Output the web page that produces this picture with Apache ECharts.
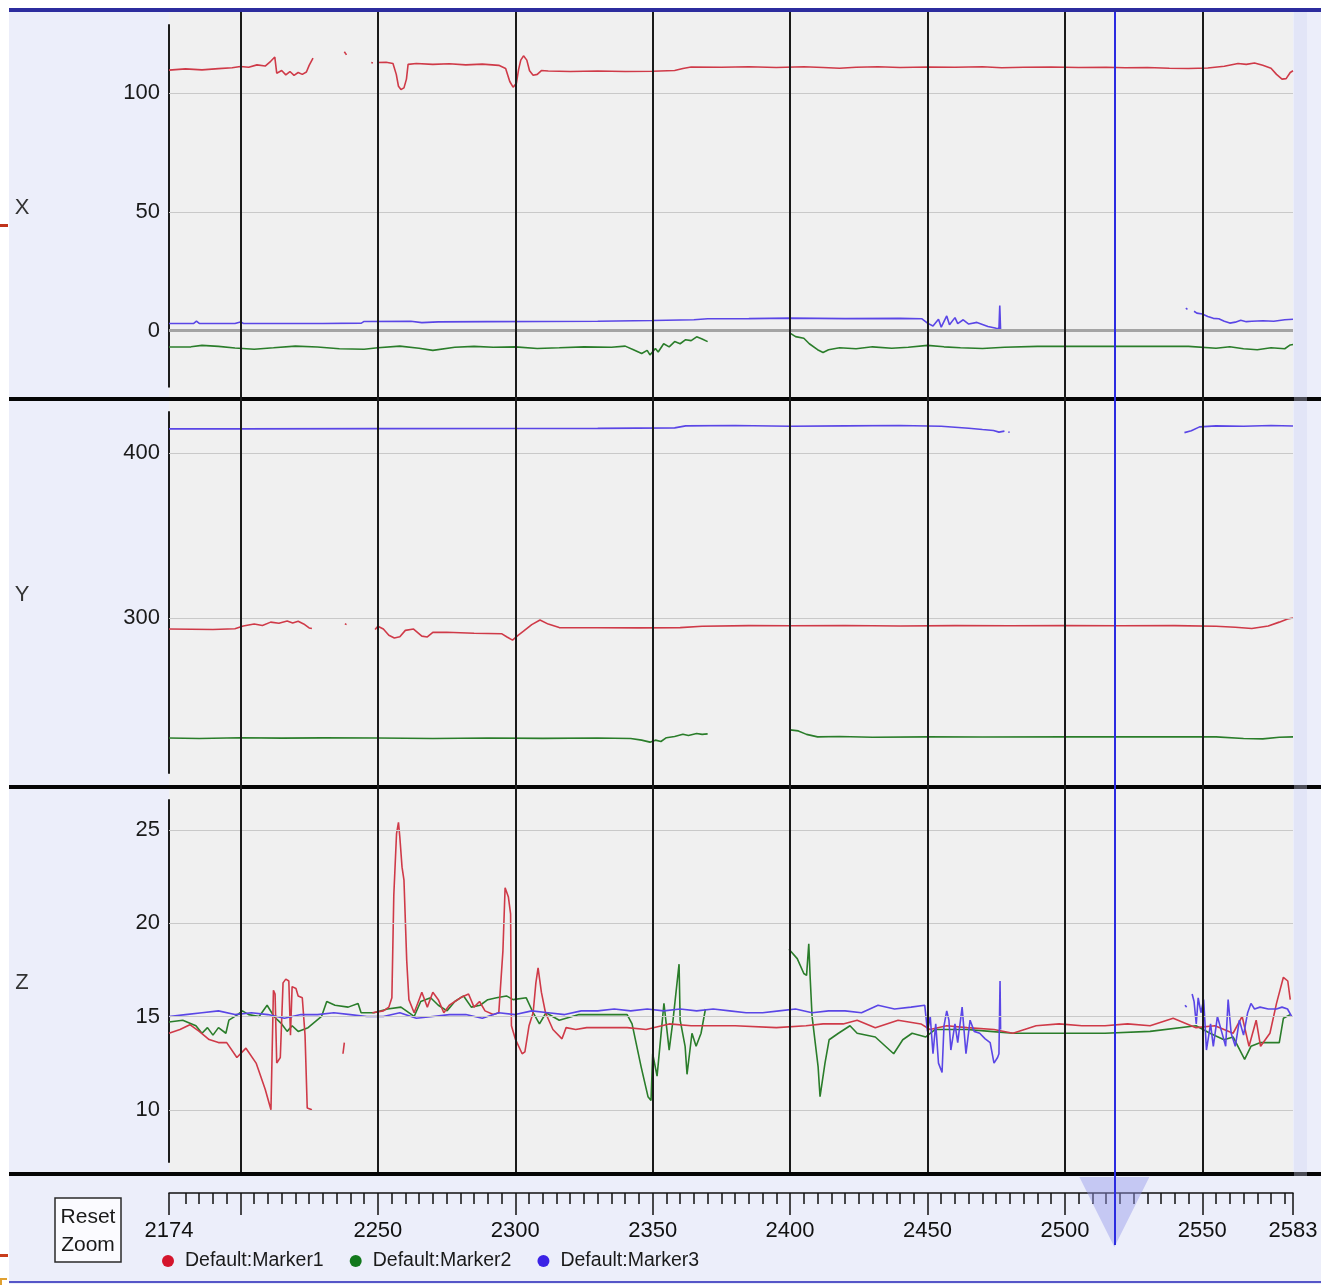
<!DOCTYPE html>
<html><head><meta charset="utf-8">
<script src="https://cdn.jsdelivr.net/npm/echarts@6.0.0/dist/echarts.min.js"></script>
<style>html,body{margin:0;padding:0;background:#fff}#c{width:1321px;height:1285px}</style>
</head><body><div id="c"></div>
<script>
// ---------------- data ----------------
const FRAME_MIN = 2174, FRAME_MAX = 2583;
const frameLabels = [2174, 2250, 2300, 2350, 2400, 2450, 2500, 2550, 2583];
const frameMajorTicks = [2174, 2200, 2250, 2300, 2350, 2400, 2450, 2500, 2550, 2583];
const frameGridLines = [2200, 2250, 2300, 2350, 2400, 2450, 2500, 2550];
const cursorFrame = 2518;
const seriesNames = ['Default:Marker1', 'Default:Marker2', 'Default:Marker3'];
const panelNames = ['X', 'Y', 'Z'];
const xTicks = [0, 50, 100];
const yTicks = [300, 400];
const zTicks = [10, 15, 20, 25];
const xRange = [-23.6, 128.8];
const yRange = [206.1, 424.8];
const zRange = [7.2, 26.6];

// Panel X
const xRed = [[2174,109.8],[2180,110.3],[2186,109.9],[2192,110.4],[2197,110.8],[2200,111.3],[2203,111.0],[2206,112.0],[2209,111.5],[2211,113.5],[2212.5,115.3],[2213.2,108.5],[2215,109.6],[2216.5,107.8],[2218,109.2],[2219.5,107.6],[2221,108.8],[2222.5,108.0],[2224,109.0],[2225,111.8],[2226.4,114.8],
null,[2237.8,117.5],[2238.6,116.2],null,[2247.6,113.0],[2248.2,112.8],null,
[2249.7,113.0],[2253,113.1],[2255.5,112.6],[2256.7,108.0],[2257.5,103.0],[2258.4,101.6],[2259.5,102.3],[2260.4,106.0],[2261,112.2],[2264,112.6],[2270,112.2],[2276,112.5],[2282,112.0],[2288,112.3],[2294,111.8],[2296.5,110.5],[2298,105.0],[2299.2,102.6],[2300.4,104.2],[2301.2,110.0],[2302,114.0],[2303,115.8],[2304.2,114.0],[2305.2,109.5],[2306.5,107.6],[2308,108.0],[2309.5,109.6],[2312,109.4],[2320,109.2],[2330,109.4],[2340,109.2],[2350,109.3],[2358,109.6],[2361,110.5],[2364,111.1],[2375,111.0],[2385,111.2],[2395,110.9],[2405,111.2],[2412,110.9],[2418,110.6],[2424,111.0],[2432,111.2],[2440,110.9],[2450,111.1],[2460,111.0],[2470,111.2],[2477,110.8],[2485,111.0],[2495,111.1],[2505,110.9],[2515,111.0],[2522,110.8],[2530,110.9],[2538,110.6],[2545,110.5],[2552,110.7],[2558,111.4],[2563,112.6],[2566,112.2],[2569,112.8],[2572,111.8],[2575,110.6],[2577,108.0],[2579,106.0],[2580.5,106.2],[2582,108.8],[2583,109.5]];
const xGreen = [[2174,-6.9],[2182,-6.8],[2186,-6.2],[2192,-6.6],[2198,-7.3],[2205,-7.8],[2212,-7.2],[2220,-6.5],[2228,-6.9],[2236,-7.6],[2245,-7.8],[2250,-7.2],[2258,-6.5],[2265,-7.4],[2270,-8.3],[2278,-7.0],[2285,-6.6],[2292,-7.0],[2300,-6.8],[2308,-7.5],[2316,-7.2],[2325,-6.8],[2335,-7.0],[2340,-6.5],[2343,-8.0],[2346,-9.6],[2348,-8.3],[2349,-10.2],[2351,-7.5],[2352,-9.0],[2354,-5.5],[2356,-6.8],[2358,-4.6],[2360,-5.5],[2362,-3.8],[2364,-4.2],[2366,-2.6],[2368,-3.5],[2370,-4.6],
null,[2400,-1.0],[2402,-2.5],[2405,-3.2],[2407,-5.5],[2410,-8.0],[2412,-9.2],[2414,-8.0],[2418,-7.2],[2424,-7.6],[2430,-6.8],[2437,-7.4],[2443,-7.0],[2450,-6.2],[2456,-6.8],[2462,-7.2],[2470,-7.5],[2478,-7.0],[2490,-6.6],[2500,-6.6],[2510,-6.6],[2520,-6.6],[2530,-6.6],[2545,-6.6],[2555,-7.4],[2560,-6.8],[2565,-7.6],[2570,-8.0],[2575,-7.2],[2580,-7.6],[2582,-6.0],[2583,-5.8]];
const xBlue = [[2174,3.0],[2183,3.1],[2184,4.0],[2185,3.1],[2198,3.0],[2200,3.7],[2201,3.1],[2230,3.0],[2244,3.2],[2245,3.9],[2262,4.0],[2266,3.4],[2272,3.7],[2290,3.8],[2310,3.9],[2330,4.0],[2350,4.3],[2365,4.6],[2370,5.0],[2385,5.1],[2400,5.3],[2420,5.1],[2440,5.2],[2448,5.0],[2450,3.2],[2452,2.0],[2454,4.8],[2455,1.5],[2457,6.2],[2458,2.5],[2460,5.5],[2461,3.0],[2463,4.6],[2465,2.8],[2468,3.5],[2472,1.8],[2475,1.0],[2476,0.8],[2476.3,10.6],[2476.6,0.2],
null,[2478.5,0.3],[2479,0.2],null,[2544,9.5],[2544.6,9.0],null,
[2547,8.2],[2548,7.4],[2550,7.0],[2552,6.0],[2554,5.2],[2556,5.0],[2558,4.0],[2560,3.2],[2562,3.6],[2564,4.4],[2566,3.8],[2568,4.0],[2572,4.2],[2576,4.0],[2580,4.6],[2583,4.8]];

// Panel Y
const yRed = [[2174,293.3],[2190,293.0],[2198,293.5],[2201,295.2],[2205,296.4],[2208,295.5],[2211,297.5],[2214,296.8],[2217,298.2],[2219,297.0],[2221,298.0],[2223,296.4],[2225,294.0],[2226,293.6],
null,[2238,296.5],[2238.6,296.0],null,
[2249,293.0],[2250,295.0],[2252,293.3],[2254,289.5],[2256,287.9],[2258,288.6],[2260,292.5],[2263,293.3],[2266,289.0],[2268,288.5],[2270,291.3],[2275,291.4],[2285,290.8],[2295,290.5],[2297,288.5],[2299,286.6],[2301,289.5],[2303,292.0],[2306,296.0],[2309,298.8],[2312,296.3],[2316,294.2],[2330,294.1],[2345,294.0],[2360,294.2],[2368,295.0],[2385,295.4],[2400,295.3],[2420,295.5],[2440,295.2],[2460,295.4],[2480,295.3],[2500,295.4],[2520,295.3],[2540,295.4],[2555,295.0],[2562,294.4],[2568,293.6],[2574,295.2],[2578,297.5],[2581,299.4],[2583,300.0]];
const yGreen = [[2174,227.3],[2185,227.0],[2200,227.5],[2215,227.2],[2230,227.4],[2250,227.3],[2270,227.0],[2290,227.3],[2310,227.1],[2330,227.3],[2342,227.0],[2346,226.0],[2349,224.8],[2351,226.0],[2353,225.2],[2355,227.5],[2358,228.2],[2361,229.6],[2363,228.8],[2366,230.0],[2368,229.5],[2370,229.8],
null,[2400,232.2],[2403,231.6],[2406,229.5],[2410,228.0],[2418,228.2],[2430,227.8],[2450,228.0],[2470,227.9],[2500,228.0],[2530,228.0],[2555,228.0],[2565,227.0],[2572,226.8],[2578,227.8],[2583,228.0]];
const yBlue = [[2174,414.6],[2200,414.6],[2250,414.7],[2300,414.8],[2330,414.9],[2358,415.2],[2362,416.4],[2380,416.6],[2400,416.2],[2420,416.4],[2440,416.6],[2455,416.2],[2465,415.0],[2470,414.2],[2474,413.6],[2476,412.6],[2478,413.2],
null,[2479.4,412.7],[2479.9,412.5],null,
[2543.5,412.3],[2546,413.5],[2549,415.8],[2555,416.4],[2565,416.2],[2575,416.6],[2583,416.3]];

// Panel Z
const zRed = [[2174,14.1],[2178,14.3],[2181.6,14.56],[2185,14.2],[2188.6,13.76],[2192,13.6],[2195,13.6],[2198.7,12.8],[2202,13.3],[2205.7,12.5],[2209,11.1],[2211.1,10.0],[2212,16.4],[2212.6,16.2],[2213.2,12.5],[2214.5,12.8],[2215.5,16.8],[2216.5,17.0],[2217.6,16.9],[2218.2,14.0],[2218.8,16.6],[2220.2,16.5],[2221,16.1],[2222.5,16.0],[2223.5,14.0],[2224.3,10.1],[2226,10.0],
null,[2237.3,13.0],[2237.8,13.6],null,
[2248,15.2],[2252,15.3],[2254,15.5],[2255.1,16.0],[2255.8,21.5],[2256.8,24.8],[2257.5,25.4],[2258,24.6],[2258.8,23.0],[2259.5,22.3],[2260.5,18.0],[2261.3,15.9],[2263.2,15.2],[2265,15.9],[2266,16.3],[2268,15.5],[2270,16.3],[2272,15.9],[2274,15.2],[2276,15.6],[2280,16.0],[2283,16.2],[2285,15.5],[2287,15.8],[2289,15.3],[2292,15.1],[2294,15.2],[2295.5,18.5],[2296.3,21.9],[2297.5,21.4],[2298.3,20.5],[2298.6,14.5],[2300,13.8],[2302.5,13.0],[2303.5,13.1],[2305,14.5],[2306.5,15.2],[2307.5,16.8],[2308.3,17.6],[2309.5,16.3],[2311,15.2],[2313.7,14.3],[2317,13.8],[2318.5,14.4],[2322,14.3],[2326,14.4],[2330.8,14.4],[2340.7,14.4],[2347.6,14.3],[2356,14.6],[2364,14.5],[2380,14.5],[2395,14.4],[2405.8,14.5],[2412,14.6],[2419.3,14.6],[2424.4,14.8],[2431,14.4],[2439.3,14.8],[2447.6,14.6],[2450.9,14.3],[2457,14.5],[2464.4,14.4],[2474.2,14.3],[2481.1,14.1],[2489.5,14.5],[2497.9,14.6],[2506.2,14.5],[2514.6,14.5],[2522.8,14.6],[2531,14.5],[2539.4,14.9],[2547.7,14.4],[2554.6,14.5],[2561.2,14.1],[2564.5,15.0],[2567,13.4],[2569.6,14.8],[2571.2,13.4],[2574.6,14.1],[2577,15.7],[2579.5,17.1],[2581.1,16.9],[2582,15.9]];
const zGreen = [[2174,14.7],[2179,14.8],[2183.8,14.5],[2186,14.1],[2188,14.4],[2190,14.0],[2192,14.4],[2194.7,14.1],[2195.8,14.8],[2199,15.1],[2200.7,15.3],[2203,15.1],[2206.8,15.0],[2209.7,15.6],[2212.2,15.0],[2215,14.6],[2217,14.2],[2218.8,14.5],[2221,14.2],[2224.6,14.4],[2229.5,15.0],[2231.4,15.8],[2234.4,15.6],[2239.2,15.5],[2242.8,15.7],[2243.9,15.2],[2248.6,15.2],[2253.5,15.4],[2258.4,15.5],[2263.2,15.0],[2265.6,15.8],[2269.2,16.0],[2272,15.6],[2275.2,15.3],[2278,15.8],[2281.2,16.1],[2284,15.5],[2287.2,15.6],[2290,15.9],[2293.2,16.0],[2296.8,16.1],[2299.2,15.9],[2304,16.0],[2306.5,15.2],[2308.8,14.6],[2311.2,15.2],[2316,14.8],[2323.2,15.1],[2330.8,15.1],[2340.7,15.1],[2342.5,14.6],[2345.8,12.3],[2348.3,10.7],[2349.4,10.5],[2350,13.0],[2351.6,11.8],[2354.1,15.7],[2356,13.2],[2357.4,14.8],[2359.6,17.8],[2360,14.8],[2361.8,13.4],[2362.5,11.9],[2364.3,14.1],[2365.8,13.4],[2367.6,14.1],[2369.2,15.4],
null,[2399.6,18.6],[2402.6,18.1],[2405,17.3],[2406,17.2],[2406.8,18.9],[2407.3,17.1],[2408,15.0],[2410.2,12.3],[2410.9,10.7],[2412.7,12.5],[2414.2,13.75],[2417.6,14.1],[2421.8,14.5],[2424.4,14.1],[2431,13.9],[2437.7,13.0],[2441,13.75],[2444.4,14.1],[2449.4,13.9],[2452.7,14.3],[2464.4,14.3],[2472.8,14.2],[2481.1,14.1],[2497.9,14.1],[2514.6,14.1],[2531,14.2],[2547.7,14.5],[2552.8,14.1],[2557.9,13.75],[2561.2,13.9],[2565.4,12.7],[2567.7,13.4],[2571.2,13.6],[2578,13.6],[2579.5,14.9],[2582,15.1]];
const zBlue = [[2174,15.0],[2180,15.1],[2186,15.2],[2192,15.3],[2198,15.1],[2204,15.2],[2210,15.1],[2216,14.9],[2222,15.1],[2228,15.1],[2234,15.2],[2240,15.1],[2246,15.0],[2252,15.0],[2258,15.2],[2264,14.9],[2270,15.0],[2276,15.1],[2282,15.1],[2288,14.9],[2294,15.2],[2300,15.1],[2306,15.3],[2312,15.2],[2318,15.1],[2324,15.3],[2330,15.3],[2336,15.4],[2342,15.3],[2348,15.4],[2354,15.3],[2360,15.4],[2366,15.3],[2372,15.4],[2378,15.3],[2384,15.2],[2390,15.2],[2396,15.3],[2402,15.4],[2408,15.2],[2414,15.3],[2420,15.3],[2426,15.2],[2432,15.6],[2438,15.4],[2444,15.5],[2449,15.6],[2450,14.2],[2451,15.0],[2452,13.0],[2453,14.6],[2454,12.5],[2455.3,12.0],[2456,14.5],[2457,15.3],[2457.8,14.8],[2458.5,13.2],[2460,14.6],[2461,13.6],[2462.6,15.5],[2464,13.0],[2465.5,14.8],[2467,14.2],[2469,14.1],[2471,13.8],[2472.8,13.6],[2474.2,12.5],[2475.5,12.8],[2476,13.0],[2476.4,16.9],[2476.6,14.3],
null,[2543.7,15.6],[2544.3,15.5],null,
[2546.3,16.2],[2547,15.8],[2547.8,14.6],[2548.5,16.0],[2549.5,15.2],[2550.5,15.9],[2551.5,13.2],[2553,14.6],[2554,13.4],[2555.5,15.0],[2557,14.2],[2558.5,13.4],[2559.4,15.9],[2560.5,14.1],[2562,13.4],[2563.5,14.8],[2565,14.0],[2566.5,15.2],[2567.7,15.7],[2569,15.4],[2571,15.5],[2574,15.4],[2577,15.4],[2579,15.5],[2581,15.4],[2582.5,15.0]];

// ---------------- styling ----------------
const FONT = "'Liberation Sans', Arial, sans-serif";
const lineColors = ['#cf3a48', '#2a7d2a', '#5a46e6'];
const legendColors = ['#d4142c', '#12781c', '#3b22e6'];
const PLOT_LEFT = 169, PLOT_W = 1124;

const panels = [
  { name: panelNames[0], ticks: xTicks, range: xRange, top: 25, height: 361.7, data: [xRed, xGreen, xBlue], zero: true },
  { name: panelNames[1], ticks: yTicks, range: yRange, top: 412, height: 361, data: [yRed, yGreen, yBlue] },
  { name: panelNames[2], ticks: zTicks, range: zRange, top: 800, height: 362, data: [zRed, zGreen, zBlue] }
];

const prep = arr => arr.map(p => p === null ? ['-', '-'] : p);
const plain = v => String(Math.round(v * 1000) / 1000);

const grid = [], xAxis = [], yAxis = [], series = [];
panels.forEach((p, i) => {
  grid.push({ left: PLOT_LEFT, width: PLOT_W, top: p.top, height: p.height });
  xAxis.push({ type: 'value', gridIndex: i, min: FRAME_MIN, max: FRAME_MAX, show: false });
  yAxis.push({
    type: 'value', gridIndex: i, min: p.range[0], max: p.range[1],
    axisLine: { show: true, onZero: false, lineStyle: { color: '#1c1c1c', width: 2 } },
    axisTick: { show: true, inside: true, length: 8, customValues: p.ticks, lineStyle: { color: '#444', width: 1 } },
    axisLabel: { show: true, customValues: p.ticks, formatter: plain, margin: 9, color: '#1a1a1a', fontSize: 22, fontFamily: FONT },
    splitLine: { show: false }
  });
  series.push({
    type: 'line', xAxisIndex: i, yAxisIndex: i, data: [], z: 1, silent: true,
    markLine: {
      silent: true, symbol: ['none', 'none'], label: { show: false }, animation: false,
      lineStyle: { color: '#c9c9c9', width: 1, type: 'solid' },
      emphasis: { disabled: true },
      data: p.ticks.map(v => (p.zero && v === 0)
        ? { yAxis: v, lineStyle: { color: '#a4a4a4', width: 3, type: 'solid' } }
        : { yAxis: v })
    }
  });
  [1, 0, 2].forEach(k => {
    series.push({
      name: seriesNames[k], type: 'line', xAxisIndex: i, yAxisIndex: i,
      data: prep(p.data[k]), showSymbol: false, symbol: 'none', connectNulls: false,
      color: lineColors[k], lineStyle: { color: lineColors[k], width: 1.6 }, z: 3,
      emphasis: { disabled: true }
    });
  });
});

// background grid for vertical frame lines (3), cursor grid (4), bottom axis grid (5)
grid.push({ left: PLOT_LEFT, width: PLOT_W, top: 10, height: 1162 });
grid.push({ left: PLOT_LEFT, width: PLOT_W, top: 10, height: 1235 });
grid.push({ left: PLOT_LEFT, width: PLOT_W, top: 1192, height: 1 });
xAxis.push({ type: 'value', gridIndex: 3, min: FRAME_MIN, max: FRAME_MAX, show: false });
xAxis.push({ type: 'value', gridIndex: 4, min: FRAME_MIN, max: FRAME_MAX, show: false });
const minorTicks = [];
for (let v = 2180; v < FRAME_MAX; v += 5) minorTicks.push(v);
xAxis.push({
  type: 'value', gridIndex: 5, min: FRAME_MIN, max: FRAME_MAX, position: 'bottom',
  axisLine: { show: true, onZero: false, lineStyle: { color: '#111', width: 1.5 } },
  axisTick: { show: true, customValues: frameMajorTicks, length: 22, lineStyle: { color: '#111', width: 1.5 } },
  axisLabel: { show: true, customValues: frameLabels, formatter: plain, margin: 27, color: '#111', fontSize: 22, fontFamily: FONT, hideOverlap: false },
  splitLine: { show: false }
});
xAxis.push({
  type: 'value', gridIndex: 5, min: FRAME_MIN, max: FRAME_MAX, position: 'bottom',
  axisLine: { show: false },
  axisTick: { show: true, customValues: minorTicks, length: 11, lineStyle: { color: '#111', width: 1.5 } },
  axisLabel: { show: false }, splitLine: { show: false }
});
[3, 4, 5].forEach(g => yAxis.push({ type: 'value', gridIndex: g, min: 0, max: 1, show: false }));

series.push({
  type: 'line', xAxisIndex: 3, yAxisIndex: 3, data: [], z: 2, silent: true,
  markLine: { silent: true, symbol: ['none', 'none'], label: { show: false }, animation: false,
    lineStyle: { color: '#1a1a1a', width: 2, type: 'solid' }, emphasis: { disabled: true },
    data: frameGridLines.map(v => ({ xAxis: v })) }
});
series.push({
  type: 'line', xAxisIndex: 4, yAxisIndex: 4, data: [], z: 6, silent: true,
  markLine: { silent: true, symbol: ['none', 'none'], label: { show: false }, animation: false,
    lineStyle: { color: '#2b2be0', width: 2, type: 'solid' }, emphasis: { disabled: true },
    data: [{ xAxis: cursorFrame }] }
});

const graphic = [
  { type: 'rect', z: -10, shape: { x: 9, y: 8, width: 1312, height: 1276 }, style: { fill: '#eceefa' } },
  { type: 'rect', z: -9, shape: { x: PLOT_LEFT, y: 12, width: PLOT_W, height: 385 }, style: { fill: '#f0f0f0' } },
  { type: 'rect', z: -9, shape: { x: PLOT_LEFT, y: 401, width: PLOT_W, height: 384 }, style: { fill: '#f0f0f0' } },
  { type: 'rect', z: -9, shape: { x: PLOT_LEFT, y: 789, width: PLOT_W, height: 383 }, style: { fill: '#f0f0f0' } },
  { type: 'rect', z: 4, shape: { x: 9, y: 397, width: 1312, height: 4 }, style: { fill: '#050505' } },
  { type: 'rect', z: 4, shape: { x: 9, y: 785, width: 1312, height: 4 }, style: { fill: '#050505' } },
  { type: 'rect', z: 4, shape: { x: 9, y: 1172, width: 1312, height: 4 }, style: { fill: '#050505' } },
  { type: 'rect', z: 7, shape: { x: 1294, y: 12, width: 13, height: 1164 }, style: { fill: 'rgba(210,212,240,0.35)' } },
  { type: 'rect', z: 8, shape: { x: 9, y: 8, width: 1312, height: 4 }, style: { fill: '#2c2c9e' } },
  { type: 'rect', z: 8, shape: { x: 9, y: 1281, width: 1312, height: 2 }, style: { fill: '#5656c8' } },
  { type: 'rect', z: 8, shape: { x: 0, y: 224, width: 8, height: 3 }, style: { fill: '#c0341c' } },
  { type: 'rect', z: 8, shape: { x: 0, y: 1254, width: 8, height: 3 }, style: { fill: '#c83c1c' } },
  { type: 'rect', z: 8, shape: { x: 0, y: 1278, width: 7, height: 2 }, style: { fill: '#e0a030' } },
  { type: 'rect', z: 8, shape: { x: 0, y: 1278, width: 2, height: 7 }, style: { fill: '#e0a030' } },
  { type: 'rect', z: 8, shape: { x: 55, y: 1198, width: 66, height: 64 }, style: { fill: '#fbfbff', stroke: '#2a2a2a', lineWidth: 1.5 } },
  { type: 'text', z: 9, x: 88, y: 1231, style: { text: 'Reset\nZoom', font: '21px ' + FONT, fill: '#1a1a1a', align: 'center', verticalAlign: 'middle', lineHeight: 28 } }
];
panels.forEach(p => {
  graphic.push({ type: 'text', z: 9, x: 22, y: p.top + p.height / 2 + 2,
    style: { text: p.name, font: '22px ' + FONT, fill: '#333', align: 'center', verticalAlign: 'middle' } });
});

const chart = echarts.init(document.getElementById('c'), null, { renderer: 'canvas' });
chart.setOption({
  backgroundColor: '#ffffff',
  animation: false,
  grid, xAxis, yAxis, series, graphic,
  legend: {
    left: 162, top: 1251, padding: 0, itemGap: 26, itemWidth: 12, itemHeight: 12, icon: 'circle',
    selectedMode: false,
    textStyle: { fontSize: 19.5, fontFamily: FONT, color: '#1a1a1a', padding: [0, 0, 0, 6] },
    data: seriesNames.map((n, k) => ({ name: n, itemStyle: { color: legendColors[k] } }))
  }
});

// cursor marker triangle placed through the axis scale
const cx = chart.convertToPixel({ xAxisIndex: 4 }, cursorFrame);
chart.setOption({
  graphic: [{ id: 'cursorTri', type: 'polygon', z: 5,
    shape: { points: [[cx - 35, 1177], [cx + 35, 1177], [cx, 1247]] },
    style: { fill: 'rgba(150,152,236,0.45)' } }]
});
</script>
</body></html>
